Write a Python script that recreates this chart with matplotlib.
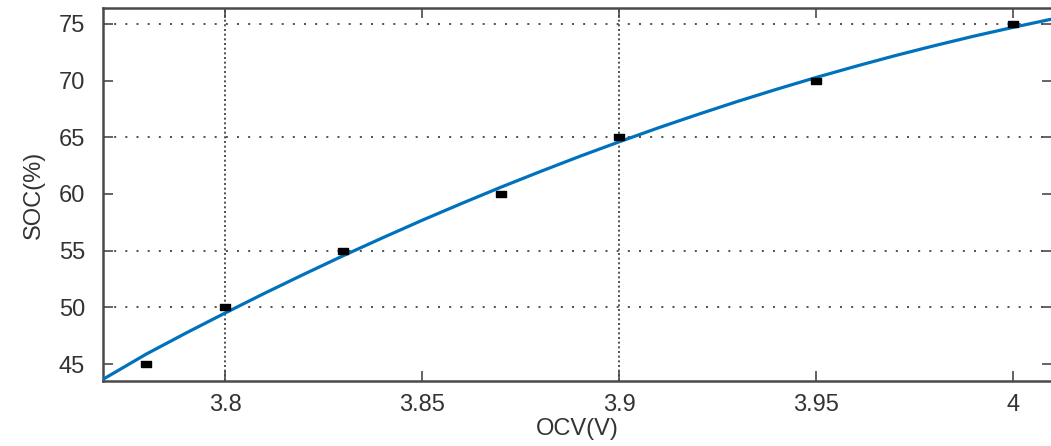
import matplotlib
matplotlib.use("Agg")
import matplotlib.pyplot as plt

# measured open-circuit voltage vs state of charge
ocv_meas = [3.78, 3.80, 3.83, 3.87, 3.90, 3.95, 4.00]
soc_meas = [45, 50, 55, 60, 65, 70, 75]

# fitted SOC-OCV curve, sampled along the voltage axis
ocv_fit = [3.769, 3.78, 3.79, 3.80, 3.81, 3.82, 3.83, 3.84, 3.85, 3.86, 3.87, 3.88,
           3.89, 3.90, 3.91, 3.92, 3.93, 3.94, 3.95, 3.96, 3.97, 3.98, 3.99, 4.00, 4.01]
soc_fit = [43.65, 45.88, 47.72, 49.50, 51.24, 52.92, 54.56, 56.14, 57.68, 59.16, 60.60, 61.98,
           63.32, 64.60, 65.84, 67.02, 68.16, 69.24, 70.28, 71.26, 72.20, 73.08, 73.92, 74.70, 75.44]

xticks = [3.8, 3.85, 3.9, 3.95, 4.0]
xtick_labels = ["3.8", "3.85", "3.9", "3.95", "4"]
yticks = [45, 50, 55, 60, 65, 70, 75]
# grid lines that show up on the plot
xgrid = [3.8, 3.9]
ygrid = [50, 55, 65, 75]

plt.rcParams['font.family'] = ['Liberation Sans', 'DejaVu Sans']
txt = '#333333'
edge = '#4a4a4a'

fig = plt.figure(figsize=(10.51, 4.46), dpi=100)
ax = fig.add_axes([0.098, 0.1457, 0.9025, 0.8363])

for gx in xgrid:
    ax.axvline(gx, color='#333333', lw=1.2, ls=(0, (1.2, 1.6)), zorder=1)
for gy in ygrid:
    ax.axhline(gy, color='#333333', lw=1.2, ls=(0, (1.2, 5.5)), zorder=1)

ax.plot(ocv_fit, soc_fit, color='#0072BD', lw=2.3, zorder=3)
rect = [(-1, -0.6), (1, -0.6), (1, 0.6), (-1, 0.6), (-1, -0.6)]
ax.plot(ocv_meas, soc_meas, ls='none', marker=rect, ms=6.5, color='black', zorder=4)

ax.set_xlim(3.769, 4.0097)
ax.set_ylim(43.5, 76.4)
ax.set_xticks(xticks)
ax.set_xticklabels(xtick_labels)
ax.set_yticks(yticks)

ax.tick_params(direction='in', length=7, width=1.2, color=edge, labelcolor=txt,
               labelsize=17, top=True, right=True)
ax.tick_params(axis='x', pad=9)
ax.tick_params(axis='y', pad=13)
for sp in ax.spines.values():
    sp.set_color(edge)
    sp.set_linewidth(1.8)

ax.set_xlabel('OCV(V)', fontsize=17, color=txt, labelpad=2)
ax.set_ylabel('SOC(%)', fontsize=17, color=txt, labelpad=10)

fig.savefig('out.png', dpi=100)
